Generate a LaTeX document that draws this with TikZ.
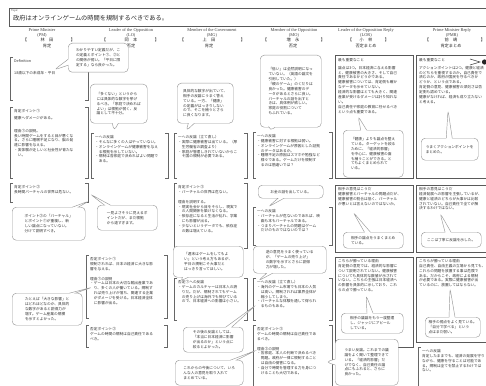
\documentclass[tikz,border=0pt]{standalone}
\usepackage{fontspec}
\setmainfont{Liberation Serif}
\newfontfamily\jp{Noto Sans CJK JP}
\usetikzlibrary{shapes.callouts}

\begin{document}
\begin{tikzpicture}[x=1pt,y=-1pt,
	memo/.style={anchor=north west,inner sep=0pt,align=left,text=black!80,font=\jp\fontsize{3.7}{4.9}\selectfont},
	hdr/.style={inner sep=0pt,text=black!75,font=\fontsize{4.4}{5}\selectfont},
	hdrjp/.style={inner sep=0pt,text=black!85,font=\jp\fontsize{4.2}{5}\selectfont},
	brk/.style={draw=black!60,line width=0.5pt},
	board/.style={draw=black!65,line width=0.8pt},
	bubble/.style={rectangle callout,draw=black!40,fill=white,rounded corners=4pt,line width=0.45pt,
		anchor=north west,inner sep=1.5pt,align=left,callout pointer width=6pt,
		text=black!80,font=\jp\fontsize{3.7}{4.9}\selectfont}]
	\useasboundingbox (0,0) rectangle (486,385);
	\clip (0,0) rectangle (486,385);

	\draw[black!65,line width=0.6pt] (9,8) rectangle (495,26);
	\node[anchor=north west,inner sep=0pt,text=black!70,font=\fontsize{3}{3}\selectfont] (toplab) at (11,9.5) {Topic};
	\node[anchor=west,inner sep=0pt,text=black!85,font=\jp\fontsize{6.2}{6.2}\selectfont] (topic) at (13,18.5) {政府はオンラインゲームの時間を規制するべきである。};

	\foreach \cx/\ti/\ab/\bl/\br/\nx/\nm/\rl in {42/Prime Minister/PM/25/73/47/林　田/肯定,
		131/Leader of the Opposition/LO/104/157/131/岡　本/否定,
		212/Member of the Government/MG/182/243/209/上　田/肯定,
		294/Member of the Opposition/MO/265/323/293/増　永/否定,
		366/Leader of the Opposition Reply/LOR/350/387/366/小　林/否定まとめ,
		452/Prime Minister Reply/PMR/427/483/451/前　嶋/肯定まとめ} {
		\node[hdr] (t\ab) at (\cx,30) {\ti};
		\node[hdr] (a\ab) at (\cx,35) {(\ab)};
		\node[hdrjp] (l\ab) at (\bl,40) {【};
		\node[hdrjp] (n\ab) at (\nx,40) {\nm};
		\node[hdrjp] (r\ab) at (\br,40) {】};
		\node[hdrjp] (o\ab) at (\nx,46) {\rl};
	}

	% sections
	\foreach \xa/\xb/\ya/\yb in {10/88/57/100, 10/88/107/178, 10/88/183/202,
		91/168/133/178, 86/167/255/318, 86/167/325/347,
		174/247/133/178, 174/247/183/248, 174/247/278/320,
		253/332/132/178, 253/332/207/245, 253/332/278/320, 253/332/325/392,
		418/497/347/392} {
		\draw[brk] (\xa+3,\ya) -- (\xa,\ya) -- (\xa,\yb) -- (\xa+3,\yb);
		\draw[brk] (\xb-3,\ya) -- (\xb,\ya) -- (\xb,\yb) -- (\xb-3,\yb);
	}

	\node[memo] (pm1) at (14,59) {Definition\\[7pt]18歳以下の未成年・平日};
	\node[memo] (pm2) at (14,109) {肯定ポイント①\\[2pt]健康へダメージがある。\\[8pt]理由①の説明。\\長い時間ゲームをすると目が悪くな\\る。さらに睡眠不足になり、脳の発\\達に影響を与える。\\・実体験が乏しいと社会性が育たな\\　い。};
	\node[memo] (pm3) at (14,185) {肯定ポイント②\\長時間バーチャルの世界は危ない。};

	\node[memo] (lo1) at (95,135) {一への反論\\・そんなに多くの人はやっていない。\\・オンラインゲームが健康被害を与え\\　る根拠を示していない。\\・規制は各家庭で決めればよい問題で\\　ある。};
	\node[memo] (lo2) at (90,257) {否定ポイント①\\規制されれば、日本の経済に大きな影\\響を与える。\\[5pt]理由①の説明\\・ゲームは日本の大切な輸出産業であ\\　り、多くの人が働いている。規制す\\　れば売り上げが落ち、関連する企業\\　がダメージを受ける。日本経済全体\\　に影響が出る。};
	\node[memo] (lo3) at (90,327) {否定ポイント②\\ゲームの時間の規制は自己責任である\\べき。};

	\node[memo] (mg1) at (178,135) {一への反論（立て直し）\\・実際に健康被害は出ている。（厚\\　生労働省の調査より）\\・家庭が管理しきれていないからこ\\　そ国の規制が必要である。};
	\node[memo] (mg2) at (178,185) {肯定ポイント③\\・バーチャルの世界は危ない。\\[5pt]理由を説明する。\\・現実社会から目をそらし、現実で\\　の人間関係を築けなくなる。\\・依存症になると生活が乱れ、学業\\　にも影響が出る。\\・少ないというデータでも、依存症\\　の数は増えている。};
	\node[memo] (mg3) at (178,280) {否定①への反論\\・ゲームのカルチャーは日本人の誇\\　りだ。だが、規制されてもゲーム\\　の売り上げは海外でも伸びている\\　ので、日本経済への影響は小さい。};

	\node[memo] (mo1) at (257,134) {一への反論\\・健康被害に対する根拠は弱い。\\・オンラインゲームが原因とした証拠\\　のデータはあるか。\\・睡眠不足の原因はスマホや勉強など\\　様々である。ゲームだけを規制す\\　るのは筋違いでは？};
	\node[memo] (mo2) at (257,209) {一への反論\\・バーチャルが危ないのであれば、映\\　画も本もバーチャルである。\\・つまりバーチャルの問題はゲーム\\　だけのものではないのでは？};
	\node[memo] (mo3) at (257,280) {一への反論（立て直し）\\・海外のゲーム市場でも日本の人気\\　は高い。規制されれば業界全体が\\　縮小してしまう。\\・バーチャルな体験を通して得られ\\　るものもある。};
	\node[memo] (mo4) at (257,327) {否定ポイント③\\ゲームの時間の規制は自己責任であ\\るべき。\\[5pt]理由②の説明\\・各家庭、本人の判断で決めるべき\\　問題。政府が一律に規制すること\\　は自由の侵害になる。\\・自分で時間を管理する力を身につ\\　けることも大切である。};

	\node[memo] (pr4) at (422,349) {一への反論\\肯定したままでも、経済の発展を守り\\ながら、健康を守ることは可能であ\\る。規制は全てを禁止するわけでは\\ない。};

	% summary boards
	\foreach \ya/\yb in {55/178, 185/252, 257/347} {
		\draw[board] (335,\ya) rectangle (413,\yb);
	}
	\foreach \ya/\yb in {55/178, 185/252, 257/342} {
		\draw[board] (416,\ya) rectangle (497,\yb);
	}
	\node[memo] (lr1) at (338,58) {最も重要なこと\\[3pt]論点は3つ。日本経済に与える影響\\と、健康被害の大きさ、そして自己\\責任であるかどうかである。\\健康被害については、肯定側も確か\\なデータを示せていない。\\経済的な影響はとても大きく、関連\\産業が受けるダメージは計り知れな\\い。\\自己責任や家庭の教育に任せるべき\\という点も重要である。};
	\node[memo] (lr2) at (338,187) {相手の意見はこうだ\\健康被害とバーチャルの問題点だが、\\健康被害の割合は低く、バーチャル\\が悪いとは言えないのではないか。};
	\node[memo] (lr3) at (338,259) {こちらが勝っている理由\\肯定側の意見では、経済的な影響に\\ついて説明されていない。健康被害\\についても具体的な数値が示されて\\いない。こちらの主張は日本経済へ\\の影響を具体的に示しており、これ\\らの点で勝っている。};
	\node[memo] (pr1) at (419,58) {最も重要なこと\\[3pt]アクションポイントは2つ。健康と経済\\のどちらを重視するのか。自己責任で\\済むのか、政府が国民を守るべきか\\どうか、という点である。\\肯定側の意見、健康被害の深刻さは否\\定側も認めている。\\健康がなければ、経済も成り立たない\\と考える。};
	\node[memo] (pr2) at (419,187) {相手の意見はこうだ\\経済発展への影響を主張しているが、\\健康と経済のどちらが大事かは比較\\されていない。自己責任で全てが解\\決するわけではない。};
	\node[memo] (pr3) at (419,259) {こちらが勝っている理由\\自己責任、自由主義の立場から見ても、\\これらの問題を放置する事は危険で\\ある。だからこそ、政府による規制\\が必要である。実際に健康被害が出\\ているのに、放置してはならない。};
	\draw[black!70,line width=0.6pt] (470,59) -- (480,62) -- (470,65);
	\fill[black!85] (484.5,62) circle[radius=2.6pt];

	% comments
	\coordinate (pPM1) at (54,70);
	\coordinate (pPM2) at (89,201);
	\coordinate (pLO1) at (114,131);
	\coordinate (pLO2) at (90,194);
	\coordinate (pLO3) at (93,287);
	\coordinate (pMG1) at (186,131);
	\coordinate (pMG2) at (180,281);
	\coordinate (pMG3) at (256,305);
	\coordinate (pMG4) at (257,350);
	\coordinate (pMO1) at (270,131);
	\coordinate (pMO2) at (268,207);
	\coordinate (pMO3) at (258,281);
	\coordinate (pLR1) at (358,116);
	\coordinate (pLR2) at (353,212);
	\coordinate (pLR3) at (366,295);
	\coordinate (pLR4) at (326,362);
	\coordinate (pPR1) at (448,110);
	\coordinate (pPR2) at (440,213);
	\coordinate (pPR3) at (450,288);

	\node[bubble,minimum width=60pt,minimum height=29pt,callout absolute pointer={(pPM1)}] (bPM1) at (68,43) {わかりやすい定義だが、こ\\の定義とポイント①、②と\\の関係が弱い。「平日に限\\定する」なら良かった。};
	\node[bubble,minimum width=73pt,minimum height=33pt,callout absolute pointer={(pPM2)}] (bPM2) at (12,207) {ポイント②の「バーチャル」\\とポイント①が重複し、新\\しい論点になっていない。\\分けて説明すべき。};
	\node[bubble,minimum width=57pt,minimum height=39pt,callout absolute pointer={(pLO1)}] (bLO1) at (90,84) {「多くない」というから\\には具体的な数字を挙げ\\るべき。「家庭で決めれば\\よい」は根拠が弱く、反\\論として不十分。};
	\node[bubble,minimum width=60pt,minimum height=25pt,callout absolute pointer={(pLO2)}] (bLO2) at (97,205) {一見よさそうに見えるポ\\イントだが、まだ根拠\\から遠すぎます。};
	\node[bubble,minimum width=70pt,minimum height=32pt,callout absolute pointer={(pLO3)}] (bLO3) at (12,293) {たとえば「大きな影響」と\\はどれほどなのか、具体的\\な数字があると説得力が\\増す。ゲーム産業の規模\\を示すとよかった。};
	\node[bubble,minimum width=56pt,minimum height=40pt,callout absolute pointer={(pMG1)}] (bMG1) at (177,83) {具体的な数字が出ていて、\\相手の反論にうまく答え\\ている。一方、「健康」\\の定義がはっきりしない\\ので、そこを補うとさら\\に良くなります。};
	\node[bubble,minimum width=70pt,minimum height=31pt,callout absolute pointer={(pMG2)}] (bMG2) at (173,246) {「週末はゲームをしてもよ\\い」という考え方もあるが、\\平日の規制こそ大事だと\\はっきり言ってほしい。};
	\node[bubble,minimum width=60pt,minimum height=25pt,callout absolute pointer={(pMG3)}] (bMG3) at (183,327) {その後の反論としては、\\「本当に日本経済に影響\\が出るのか」という点に\\絞るとよかった。};
	\node[bubble,minimum width=68pt,minimum height=25pt,callout absolute pointer={(pMG4)}] (bMG4) at (175,360) {これからの今後について、いろ\\んな人の意見を取り入れて\\まとめている。};
	\node[bubble,minimum width=61pt,minimum height=72pt,callout absolute pointer={(pMO1)}] (bMO1) at (260,55) {「低い」は全然説明になっ\\ていない。（英語の論文を\\引用していた。）\\「親のゲーム」のくだりは\\良かった。健康被害のデ\\ータがあるとさらに良い。\\バーチャルの話を出すと\\きは、具体例が欲しい。\\家庭の役割について\\もふれている。};
	\node[bubble,minimum width=65pt,minimum height=13pt,callout absolute pointer={(pMO2)}] (bMO2) at (258,185) {お金の話を出している。};
	\node[bubble,minimum width=73pt,minimum height=27pt,callout absolute pointer={(pMO3)}] (bMO3) at (253,246) {逆の意見をうまく使っている\\が、「ゲームの売り上げ」\\の数字を示すとさらに説得\\力が増した。};
	\node[bubble,minimum width=60pt,minimum height=47pt,callout absolute pointer={(pLR1)}] (bLR1) at (343,130) {「健康」よりも論点を整え\\ている。ターゲットを絞る\\ために、「経済的影響」\\を中心に、健康被害の面\\も補うことができる。と\\てもよくまとめられて\\いる。};
	\node[bubble,minimum width=60pt,minimum height=16pt,callout absolute pointer={(pLR2)}] (bLR2) at (343,232) {相手の論点をうまくまとめ\\ている。};
	\node[bubble,minimum width=62pt,minimum height=20pt,callout absolute pointer={(pLR3)}] (bLR3) at (341,313) {相手の議論をもう一度整理\\し、ジャッジにアピール\\している。};
	\node[bubble,minimum width=63pt,minimum height=46pt,callout absolute pointer={(pLR4)}] (bLR4) at (335,339) {うまい反論。これまでの議\\論をよく聞いて整理できて\\いる。「経済的影響」だ\\けでなく、自己責任の論\\点にもふれると、さらに\\良かった。};
	\node[bubble,minimum width=57pt,minimum height=22pt,callout absolute pointer={(pPR1)}] (bPR1) at (421,138) {うまくアクションポイントを\\まとめた。};
	\node[bubble,minimum width=60pt,minimum height=15pt,callout absolute pointer={(pPR2)}] (bPR2) at (421,232) {ここは丁寧に反論を示した。};
	\node[bubble,minimum width=55pt,minimum height=20pt,callout absolute pointer={(pPR3)}] (bPR3) at (425,317) {相手の弱点をよく見ている。\\「自分で学べる」という\\点はまだ弱い。};
\end{tikzpicture}
\end{document}
